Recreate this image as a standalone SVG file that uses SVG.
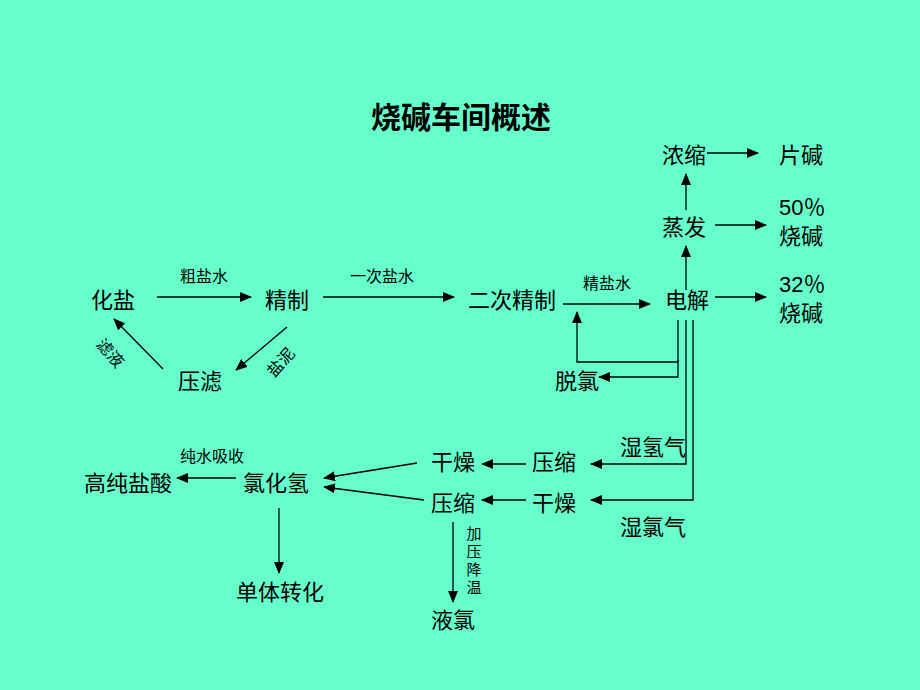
<svg xmlns="http://www.w3.org/2000/svg" width="920" height="690" viewBox="0 0 920 690">
<defs>
<style>
.bg{fill:#66FFCC}
text{font-family:"Noto Sans CJK SC","Liberation Sans",sans-serif;fill:#000}
.t{font-size:30px;font-weight:bold}
.n{font-size:22px}
.s{font-size:16px}
.v{font-size:15px;writing-mode:vertical-rl;letter-spacing:3px}
.num{font-family:"Liberation Sans","Noto Sans CJK SC",sans-serif;font-size:22px}
.c line,.c polyline{stroke:#000;stroke-width:1.3;fill:none}
.a{marker-end:url(#ah)}
</style>
<marker id="ah" markerUnits="userSpaceOnUse" markerWidth="12" markerHeight="10" refX="11" refY="5" orient="auto">
<path d="M0,0 L12,5 L0,10 Z" fill="#000"/>
</marker>
</defs>
<rect class="bg" width="920" height="690"/>
<text class="t" x="461" y="128" text-anchor="middle">烧碱车间概述</text>

<g id="n-huayan"><text class="n" x="113" y="308" text-anchor="middle">化盐</text></g>
<g id="n-jingzhi"><text class="n" x="287" y="308" text-anchor="middle">精制</text></g>
<g id="n-ercijingzhi"><text class="n" x="512" y="308" text-anchor="middle">二次精制</text></g>
<g id="n-dianjie"><text class="n" x="687" y="308" text-anchor="middle">电解</text></g>
<g id="n-32"><text class="num" x="779" y="292">32<tspan font-family="Noto Sans CJK SC, sans-serif">％</tspan></text><text class="n" x="779" y="321">烧碱</text></g>
<g id="n-zhengfa"><text class="n" x="684" y="235" text-anchor="middle">蒸发</text></g>
<g id="n-50"><text class="num" x="779" y="215">50<tspan font-family="Noto Sans CJK SC, sans-serif">％</tspan></text><text class="n" x="779" y="244">烧碱</text></g>
<g id="n-nongsuo"><text class="n" x="684" y="163" text-anchor="middle">浓缩</text></g>
<g id="n-pianjian"><text class="n" x="801" y="163" text-anchor="middle">片碱</text></g>
<g id="n-yalv"><text class="n" x="200" y="389" text-anchor="middle">压滤</text></g>
<g id="n-tuolv"><text class="n" x="577" y="389" text-anchor="middle">脱氯</text></g>
<g id="n-shiqingqi"><text class="n" x="653" y="455" text-anchor="middle">湿氢气</text></g>
<g id="n-ganzao1"><text class="n" x="453" y="470" text-anchor="middle">干燥</text></g>
<g id="n-yasuo1"><text class="n" x="554" y="470" text-anchor="middle">压缩</text></g>
<g id="n-yasuo2"><text class="n" x="453" y="511" text-anchor="middle">压缩</text></g>
<g id="n-ganzao2"><text class="n" x="554" y="511" text-anchor="middle">干燥</text></g>
<g id="n-shilvqi"><text class="n" x="653" y="535" text-anchor="middle">湿氯气</text></g>
<g id="n-lvhuaqing"><text class="n" x="276" y="491" text-anchor="middle">氯化氢</text></g>
<g id="n-gaochunyansuan"><text class="n" x="128" y="491" text-anchor="middle">高纯盐酸</text></g>
<g id="n-danti"><text class="n" x="280" y="600" text-anchor="middle">单体转化</text></g>
<g id="n-yelv"><text class="n" x="453" y="628" text-anchor="middle">液氯</text></g>

<g id="connectors" class="c">
<line class="a" x1="157" y1="297" x2="251" y2="297"/>
<line class="a" x1="323" y1="297" x2="454" y2="297"/>
<line class="a" x1="287" y1="327" x2="236" y2="370"/>
<line class="a" x1="163" y1="369" x2="114" y2="319"/>
<line class="a" x1="563" y1="304" x2="650" y2="304"/>
<line class="a" x1="686" y1="290" x2="686" y2="246"/>
<line class="a" x1="686" y1="210" x2="686" y2="174"/>
<line class="a" x1="707" y1="153" x2="758" y2="153"/>
<line class="a" x1="715" y1="225" x2="766" y2="225"/>
<line class="a" x1="715" y1="297" x2="766" y2="297"/>
<polyline class="a" points="678,320 678,362 577,362 577,312"/>
<polyline class="a" points="678,360 678,377 599,377"/>
<polyline class="a" points="686,320 686,464 591,464"/>
<polyline class="a" points="693,320 693,500 591,500"/>
<line class="a" x1="526" y1="464" x2="482" y2="464"/>
<line class="a" x1="526" y1="500" x2="482" y2="500"/>
<line class="a" x1="417" y1="463" x2="324" y2="478"/>
<line class="a" x1="424" y1="500" x2="324" y2="487"/>
<line class="a" x1="236" y1="478" x2="177" y2="478"/>
<line class="a" x1="279" y1="508" x2="279" y2="573"/>
<line class="a" x1="453" y1="522" x2="453" y2="602"/>
</g>

<g id="labels">
<text class="s" x="204" y="282" text-anchor="middle">粗盐水</text>
<text class="s" x="382" y="282" text-anchor="middle">一次盐水</text>
<text class="s" x="607" y="289" text-anchor="middle">精盐水</text>
<text class="s" x="212" y="462" text-anchor="middle">纯水吸收</text>
<text class="s" transform="translate(106,357) rotate(48)" text-anchor="middle">滤液</text>
<text class="s" transform="translate(285,366) rotate(-48)" text-anchor="middle">盐泥</text>
<text class="v" x="474" y="526">加压降温</text>
</g>
</svg>
